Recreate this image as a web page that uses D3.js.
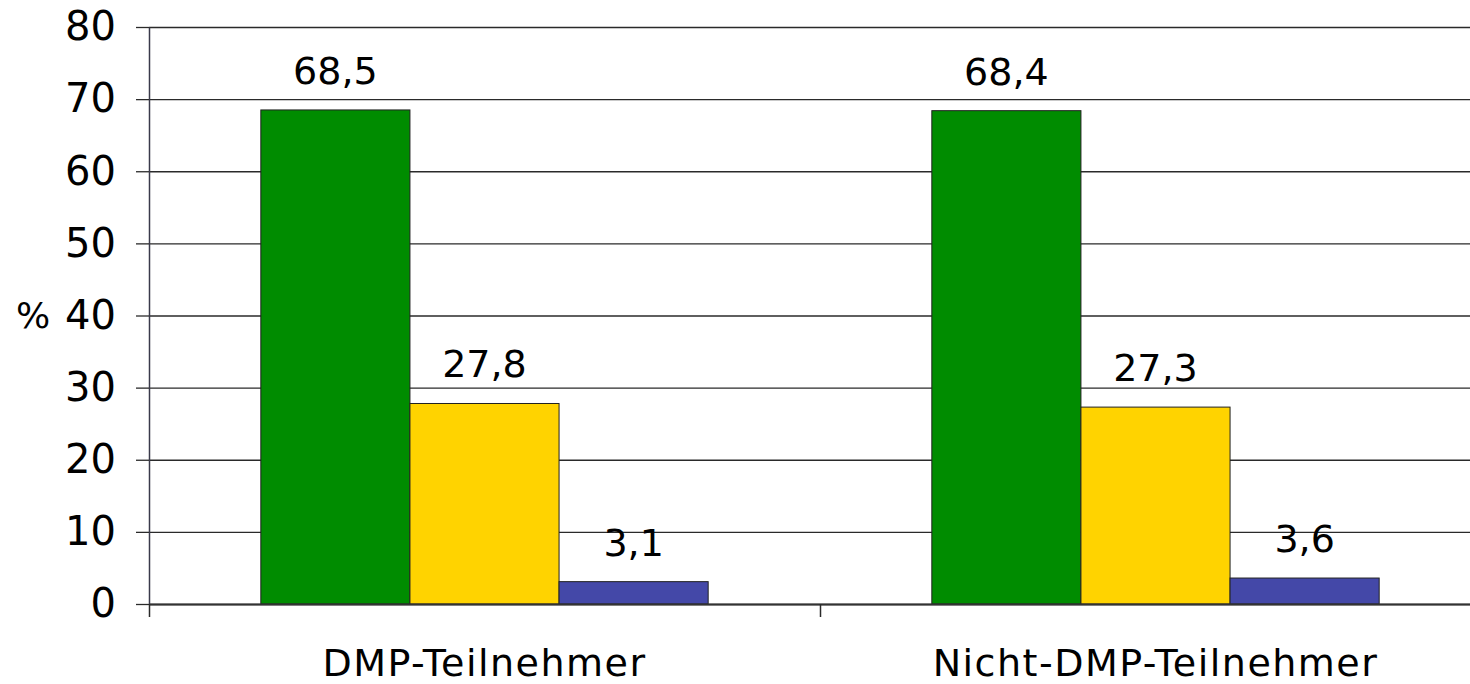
<!DOCTYPE html>
<html>
<head>
<meta charset="utf-8">
<script src="https://cdn.jsdelivr.net/npm/d3@7/dist/d3.min.js"></script>
<style>
  html, body { margin: 0; padding: 0; background: #fff; overflow: hidden; }
  svg { display: block; font-family: Verdana, "DejaVu Sans", sans-serif; }
</style>
</head>
<body>
<svg id="chart" width="1470" height="684"></svg>
<script>
// ---- data ----
const categories = ["DMP-Teilnehmer", "Nicht-DMP-Teilnehmer"];
const seriesNames = ["Serie 1", "Serie 2", "Serie 3"];
const seriesColors = ["#008c00", "#ffd300", "#4448a8"];
const series1 = [68.5, 68.4];
const series2 = [27.8, 27.3];
const series3 = [3.1, 3.6];
const yTicks = [0, 10, 20, 30, 40, 50, 60, 70, 80];
const yLabel = "%";

(function () {
// ---- layout ----
const svg = d3.select("#chart");
const plotLeft = 149, plotRight = 1491, plotTop = 27, plotBottom = 604;

const y = d3.scaleLinear().domain([0, 80]).range([plotBottom, plotTop]);
const x = d3.scaleBand().domain(categories).range([plotLeft, plotRight]).paddingInner(0).paddingOuter(0);
const barW = x.bandwidth() / 4.5;              // gap width 150%
const groupOffset = (x.bandwidth() - 3 * barW) / 2;
const xs = d3.scaleBand().domain(seriesNames).range([groupOffset, groupOffset + 3 * barW]);

const fmt = v => String(v).replace(".", ",");

// gridlines
const grid = svg.append("g").attr("transform", `translate(${plotLeft},0)`)
  .call(d3.axisLeft(y).tickValues(yTicks).tickSize(-(plotRight - plotLeft)).tickFormat(""));
grid.select(".domain").remove();
grid.selectAll("line").attr("stroke", "#2a2a2a").attr("stroke-width", 1.3);

// y axis ticks + labels
const yAxis = svg.append("g").attr("transform", `translate(${plotLeft},0)`)
  .call(d3.axisLeft(y).tickValues(yTicks).tickSize(13).tickSizeOuter(0).tickPadding(20).tickFormat(d3.format("d")));
yAxis.select(".domain").attr("stroke", "#3a3a4a").attr("stroke-width", 1.5);
yAxis.selectAll(".tick line").attr("stroke", "#2a2a2a").attr("stroke-width", 1.3);
yAxis.selectAll("text").attr("font-size", 40).attr("fill", "#000")
  .attr("font-family", 'Verdana, "DejaVu Sans", sans-serif');

// % label
svg.append("text").attr("x", 33).attr("y", y(40)).attr("dy", "0.35em")
  .attr("text-anchor", "middle").attr("font-size", 36).attr("fill", "#000").text(yLabel);

// bars
const allSeries = [series1, series2, series3];
const groups = svg.append("g").selectAll("g").data(categories).join("g")
  .attr("transform", c => `translate(${x(c)},0)`);
groups.each(function (c, ci) {
  const g = d3.select(this);
  allSeries.forEach((s, si) => {
    const v = s[ci];
    g.append("rect")
      .attr("x", xs(seriesNames[si]))
      .attr("y", y(v))
      .attr("width", xs.bandwidth())
      .attr("height", y(0) - y(v))
      .attr("fill", seriesColors[si])
      .attr("stroke", "#222")
      .attr("stroke-width", 1);
    g.append("text")
      .attr("x", xs(seriesNames[si]) + xs.bandwidth() / 2)
      .attr("y", y(v) - 26)
      .attr("text-anchor", "middle")
      .attr("font-size", 38)
      .attr("fill", "#000")
      .text(fmt(v));
  });
});

// category axis (boundary ticks)
const xb = d3.scaleLinear().domain([0, categories.length]).range([plotLeft, plotRight]);
const xAxis = svg.append("g").attr("transform", `translate(0,${plotBottom})`)
  .call(d3.axisBottom(xb).tickValues(d3.range(categories.length + 1)).tickSize(13).tickSizeOuter(0).tickFormat(""));
xAxis.select(".domain").attr("stroke", "#333").attr("stroke-width", 2.2);
xAxis.selectAll(".tick line").attr("stroke", "#2a2a2a").attr("stroke-width", 1.5);

// category labels
svg.append("g").selectAll("text").data(categories).join("text")
  .attr("x", c => x(c) + x.bandwidth() / 2)
  .attr("y", 676)
  .attr("text-anchor", "middle")
  .attr("font-size", 38)
  .attr("letter-spacing", 1.5)
  .attr("fill", "#000")
  .text(c => c);
})();
</script>
</body>
</html>
